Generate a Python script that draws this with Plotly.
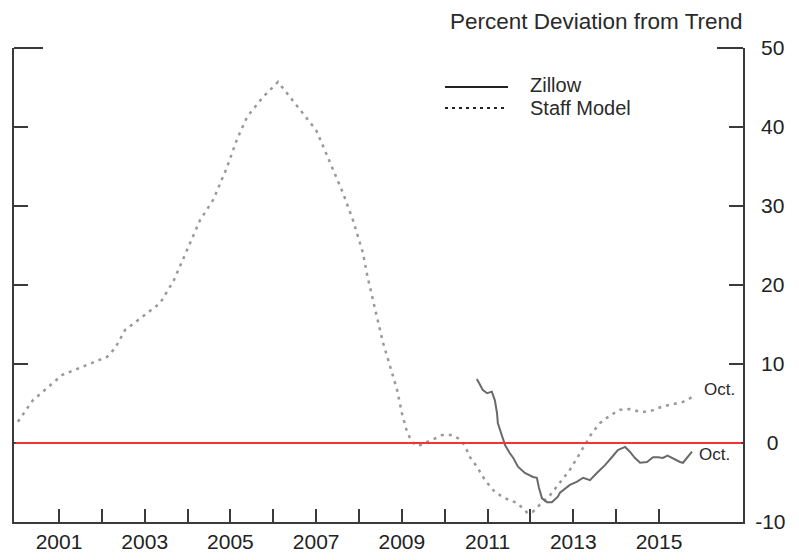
import plotly.graph_objects as go

# ---- data (decimal years, percent deviation from trend) ----
staff_x = [2000.04, 2000.39, 2001.07, 2001.49, 2002.12, 2002.31, 2002.54, 2003.0, 2003.36, 2003.68,
           2004.06, 2004.29, 2004.6, 2004.92, 2005.15, 2005.39, 2005.76, 2006.11, 2006.39, 2006.62,
           2007.0, 2007.2, 2007.4, 2007.63, 2007.86, 2008.09, 2008.2, 2008.33, 2008.56, 2008.77,
           2008.89, 2009.0, 2009.12, 2009.24, 2009.38, 2009.54, 2009.73, 2009.94, 2010.17, 2010.31,
           2010.47, 2010.59, 2010.75, 2010.94, 2011.17, 2011.41, 2011.69, 2011.94, 2012.06, 2012.22,
           2012.46, 2012.64, 2012.92, 2013.1, 2013.27, 2013.44, 2013.62, 2013.86, 2014.09, 2014.32,
           2014.6, 2014.83, 2015.07, 2015.3, 2015.56, 2015.77]
staff_y = [2.7, 5.4, 8.6, 9.5, 10.9, 12.0, 14.3, 16.2, 17.7, 20.6,
           25.3, 28.2, 30.8, 34.9, 38.4, 41.3, 43.8, 45.7, 43.8, 42.2,
           39.6, 37.1, 34.6, 31.6, 28.2, 24.1, 21.0, 18.1, 12.7, 8.9,
           6.7, 3.8, 1.4, 0.1, -0.4, 0.0, 0.5, 1.0, 1.0, 0.6,
           -0.3, -1.8, -3.0, -4.7, -6.2, -7.0, -7.6, -8.9, -8.7, -7.8,
           -6.6, -5.3, -3.4, -1.8, -0.3, 1.3, 2.5, 3.5, 4.2, 4.3,
           3.9, 4.1, 4.6, 4.9, 5.2, 5.8]

zillow_x = [2010.75, 2010.89, 2010.99, 2011.1, 2011.17, 2011.22, 2011.24, 2011.34, 2011.41, 2011.52,
            2011.6, 2011.71, 2011.87, 2012.06, 2012.15, 2012.2, 2012.27, 2012.39, 2012.5, 2012.64,
            2012.69, 2012.92, 2013.09, 2013.23, 2013.39, 2013.55, 2013.74, 2013.9, 2014.04, 2014.21,
            2014.32, 2014.44, 2014.56, 2014.72, 2014.86, 2014.98, 2015.09, 2015.2, 2015.33, 2015.49,
            2015.56, 2015.65, 2015.77]
zillow_y = [8.1, 6.7, 6.3, 6.5, 5.4, 3.8, 2.5, 0.8, -0.3, -1.3,
            -1.9, -3.0, -3.8, -4.3, -4.4, -5.7, -7.0, -7.5, -7.5, -6.8,
            -6.3, -5.3, -4.9, -4.4, -4.7, -3.8, -2.8, -1.8, -0.9, -0.5,
            -1.1, -1.9, -2.5, -2.4, -1.8, -1.8, -1.9, -1.6, -2.0, -2.4,
            -2.5, -1.9, -1.1]

year_ticks = list(range(2001, 2016))
year_labels = [str(y) if y % 2 == 1 else "" for y in year_ticks]
y_ticks = [-10, 0, 10, 20, 30, 40, 50]
y_labels = ["-10", "\u00a0\u00a00", "\u00a010", "\u00a020", "\u00a030", "\u00a040", "\u00a050"]
zero_level = 0

series_names = ["Zillow", "Staff Model"]
title_text = "Percent Deviation from Trend"
end_label = "Oct."

FONT = "Liberation Sans, Arial, sans-serif"
AXC = "#3a3a3a"

fig = go.Figure()
fig.add_trace(go.Scatter(x=staff_x, y=staff_y, mode="lines", name=series_names[1],
                         line=dict(color="#999999", width=2.5, dash="3px,5px"),
                         showlegend=False))
fig.add_trace(go.Scatter(x=zillow_x, y=zillow_y, mode="lines", name=series_names[0],
                         line=dict(color="#6a6a6a", width=2),
                         showlegend=False))

fig.update_layout(
    width=799, height=560,
    margin=dict(l=14, r=56, t=48, b=38, autoexpand=False),
    paper_bgcolor="white", plot_bgcolor="white",
    font=dict(family=FONT, size=21, color="#222222"),
    showlegend=False,
    xaxis=dict(range=[1999.95, 2016.96], tickmode="array", tickvals=year_ticks, ticktext=year_labels,
               ticks="inside", ticklen=13, tickwidth=2, tickcolor=AXC,
               showline=True, linecolor=AXC, linewidth=2, mirror=False, automargin=False,
               showgrid=False, zeroline=False, tickfont=dict(size=21)),
    yaxis=dict(range=[-10, 50], side="right", tickmode="array", tickvals=y_ticks, ticktext=y_labels,
               ticks="inside", ticklen=14, tickwidth=2, tickcolor=AXC,
               showline=True, linecolor=AXC, linewidth=2, mirror="ticks", automargin=False,
               showgrid=False, zeroline=False,
               ticklabelstandoff=6, tickfont=dict(size=21)),
)

# red zero reference line (drawn over the 0 ticks, as in the original)
fig.add_shape(type="line", xref="paper", yref="y", x0=0.002, x1=0.998, y0=zero_level, y1=zero_level,
              layer="above", line=dict(color="#e8393a", width=2))

# longer top ticks at 50 on both sides
fig.add_shape(type="line", xref="paper", yref="paper", x0=0, x1=29 / 729, y0=1, y1=1,
              line=dict(color=AXC, width=2))
fig.add_shape(type="line", xref="paper", yref="paper", x0=1 - 26 / 729, x1=1, y0=1, y1=1,
              line=dict(color=AXC, width=2))

# title
fig.add_annotation(text=title_text, xref="paper", yref="paper", x=1.003, y=1, yshift=27,
                   xanchor="right", yanchor="middle", showarrow=False,
                   font=dict(size=22.5, color="#2a2a2a", family=FONT))

# manual legend (key lines + labels)
def px_x(p):
    return (p - 14) / 729

def px_y(p):
    return (522 - p) / 474

fig.add_shape(type="line", xref="paper", yref="paper", x0=px_x(445), x1=px_x(508),
              y0=px_y(87), y1=px_y(87), line=dict(color="#222222", width=2))
fig.add_shape(type="line", xref="paper", yref="paper", x0=px_x(445), x1=px_x(508),
              y0=px_y(108), y1=px_y(108), line=dict(color="#222222", width=2, dash="3px,4px"))
fig.add_annotation(text=series_names[0], xref="paper", yref="paper", x=px_x(528), y=px_y(85),
                   xanchor="left", yanchor="middle", showarrow=False,
                   font=dict(size=20, color="#2a2a2a", family=FONT))
fig.add_annotation(text=series_names[1], xref="paper", yref="paper", x=px_x(528), y=px_y(108),
                   xanchor="left", yanchor="middle", showarrow=False,
                   font=dict(size=20, color="#2a2a2a", family=FONT))

# end labels
fig.add_annotation(text=end_label, x=staff_x[-1], y=staff_y[-1], xshift=10, yshift=8,
                   xanchor="left", yanchor="middle", showarrow=False,
                   font=dict(size=17, color="#2a2a2a", family=FONT))
fig.add_annotation(text=end_label, x=zillow_x[-1], y=zillow_y[-1], xshift=5, yshift=-3,
                   xanchor="left", yanchor="middle", showarrow=False,
                   font=dict(size=17, color="#2a2a2a", family=FONT))

fig.write_html("out.html", config={"displayModeBar": False},
               post_script="document.body.style.margin='0';")
